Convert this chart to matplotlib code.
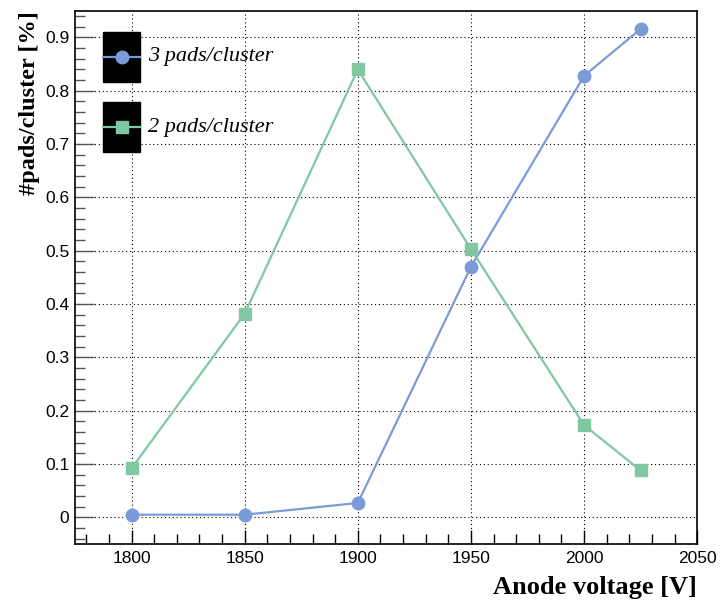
import matplotlib
matplotlib.use("Agg")
import matplotlib.pyplot as plt
from matplotlib.patches import Rectangle
from matplotlib.lines import Line2D
from matplotlib.ticker import MultipleLocator, FuncFormatter

voltage = [1800, 1850, 1900, 1950, 2000, 2025]
pads3 = [0.005, 0.005, 0.027, 0.470, 0.828, 0.916]
pads2 = [0.092, 0.382, 0.840, 0.503, 0.173, 0.088]
labels = ["3 pads/cluster", "2 pads/cluster"]

c3 = "#7b9bd8"
c2 = "#80c8a2"

fig = plt.figure(figsize=(7.21, 6.02), dpi=100)
ax = fig.add_axes([0.104, 0.0963, 0.863, 0.8857])

ax.plot(voltage, pads3, color=c3, lw=1.6, marker="o", ms=9, zorder=3)
ax.plot(voltage, pads2, color=c2, lw=1.6, marker="s", ms=8.5, zorder=3)

ax.set_xlim(1775, 2050)
ax.set_ylim(-0.05, 0.95)
ax.xaxis.set_major_locator(MultipleLocator(50))
ax.xaxis.set_minor_locator(MultipleLocator(10))
ax.yaxis.set_major_locator(MultipleLocator(0.1))
ax.yaxis.set_minor_locator(MultipleLocator(0.02))
ax.tick_params(which="both", direction="in", top=False, right=False,
               labelsize=12.5, width=1)
ax.tick_params(axis="y", which="both", color="#555555")
ax.tick_params(axis="y", which="major", length=14)
ax.tick_params(axis="y", which="minor", length=7)
ax.tick_params(axis="x", which="major", length=10)
ax.tick_params(axis="x", which="minor", length=7)
ax.tick_params(axis="x", pad=5)
ax.tick_params(axis="y", pad=4)
for lab in ax.get_xticklabels() + ax.get_yticklabels():
    lab.set_family("Liberation Sans")
ax.yaxis.set_major_formatter(FuncFormatter(lambda v, p: "0" if abs(v) < 1e-9 else f"{v:.1f}"))
ax.grid(True, which="major", color="black", linestyle=(0, (1, 2.5)), lw=0.8)
for s in ax.spines.values():
    s.set_linewidth(1.2)

ax.set_xlabel("Anode voltage [V]", fontfamily="Liberation Serif", fontweight="bold",
              fontsize=19, loc="right", labelpad=7)
ax.set_ylabel("#pads/cluster [%]", fontfamily="Liberation Serif", fontweight="bold",
              fontsize=17.5, loc="top")

boxes = [(0.8668, 0.9606, 0.9137, c3, "o"), (0.7355, 0.829, 0.782, c2, "s")]
for (y0, y1, ym, col, mk), lab in zip(boxes, labels):
    ax.add_patch(Rectangle((0.045, y0), 0.0595, y1 - y0, transform=ax.transAxes,
                           facecolor="black", edgecolor="black", zorder=5))
    ax.add_line(Line2D([0.045, 0.1045], [ym, ym], transform=ax.transAxes, color=col,
                       lw=1.6, zorder=6))
    ax.add_line(Line2D([0.0748], [ym], transform=ax.transAxes, color=col, marker=mk,
                       ms=9 if mk == "o" else 8.5, lw=0, zorder=7))
    ax.text(0.117, ym, lab, transform=ax.transAxes, fontfamily="Liberation Serif",
            fontstyle="italic", fontsize=16, va="center", ha="left", zorder=7)

fig.savefig("out.png", dpi=100)
